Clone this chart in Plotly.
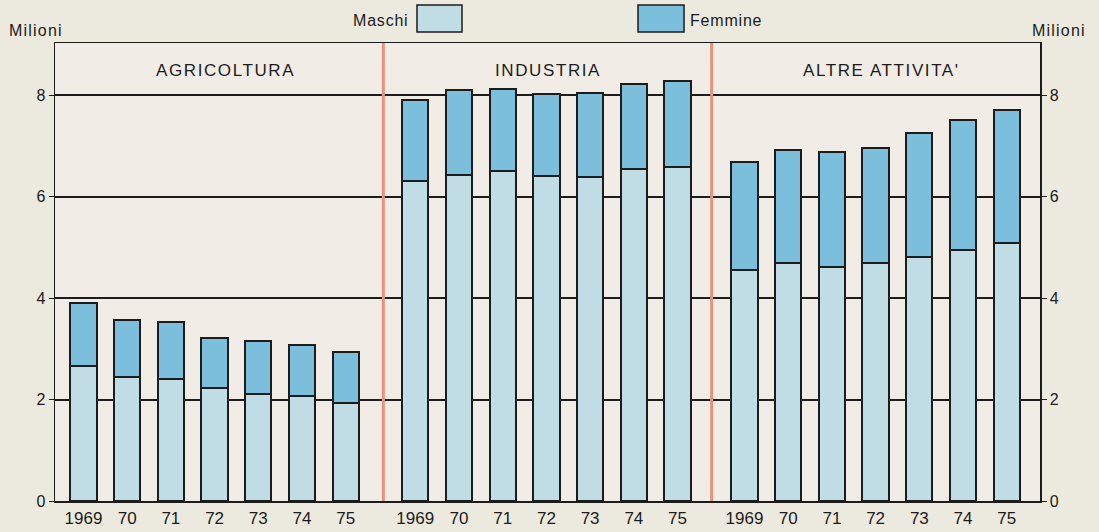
import plotly.graph_objects as go

years = ["1969", "70", "71", "72", "73", "74", "75"]
sectors = ["AGRICOLTURA", "INDUSTRIA", "ALTRE ATTIVITA'"]

# milioni di occupati: maschi e totale (maschi + femmine)
agri_maschi = [2.66, 2.45, 2.40, 2.22, 2.11, 2.08, 1.94]
agri_totale = [3.91, 3.57, 3.53, 3.22, 3.15, 3.07, 2.94]
ind_maschi = [6.31, 6.42, 6.50, 6.40, 6.39, 6.54, 6.59]
ind_totale = [7.91, 8.10, 8.13, 8.02, 8.05, 8.23, 8.28]
altre_maschi = [4.55, 4.70, 4.62, 4.70, 4.81, 4.95, 5.08]
altre_totale = [6.69, 6.92, 6.88, 6.96, 7.26, 7.51, 7.70]

y_ticks = [0, 2, 4, 6, 8]

maschi = [agri_maschi, ind_maschi, altre_maschi]
totale = [agri_totale, ind_totale, altre_totale]

C_M = "#c0dce4"
C_F = "#7bbfdc"
INK = "#1c1c1c"
FONT = "Liberation Sans"


def spaced(t, px=1.5):
    return f'<span style="letter-spacing:{px}px">{t}</span>'


fig = go.Figure()
xranges = [[-0.65, 6.86], [-0.73, 6.78], [-0.75, 6.76]]
domains = [[0, 1/3], [1/3, 2/3], [2/3, 1]]

for i in range(3):
    xa = "x" if i == 0 else f"x{i+1}"
    ya = "y" if i == 0 else f"y{i+1}"
    femmine = [round(t - m, 2) for t, m in zip(totale[i], maschi[i])]
    fig.add_trace(go.Bar(x=years, y=maschi[i], xaxis=xa, yaxis=ya, name="Maschi",
                         marker=dict(color=C_M, line=dict(color=INK, width=2)),
                         width=0.6, showlegend=False))
    fig.add_trace(go.Bar(x=years, y=femmine, xaxis=xa, yaxis=ya, name="Femmine",
                         marker=dict(color=C_F, line=dict(color=INK, width=2)),
                         width=0.6, showlegend=False))
    xkey = "xaxis" if i == 0 else f"xaxis{i+1}"
    ykey = "yaxis" if i == 0 else f"yaxis{i+1}"
    fig.layout[xkey] = dict(domain=domains[i], anchor=ya, type="category",
                            range=xranges[i], showgrid=False, showline=True,
                            mirror=True, linecolor=INK, linewidth=1.5,
                            ticks="", ticklabelstandoff=1, automargin=False,
                            tickfont=dict(family=FONT, size=17, color=INK),
                            fixedrange=True)
    yd = dict(anchor=xa, range=[0, 9.03], tickvals=y_ticks, automargin=False,
              showgrid=True, gridcolor=INK, gridwidth=2, zeroline=False,
              tickfont=dict(family=FONT, size=16, color=INK), fixedrange=True)
    if i == 0:
        yd.update(showline=True, linecolor=INK, linewidth=1.5, ticks="outside",
                  ticklen=5, tickcolor=INK, showticklabels=True, side="left")
    elif i == 2:
        yd.update(showline=True, linecolor=INK, linewidth=1.5, ticks="outside",
                  ticklen=5, tickcolor=INK, showticklabels=True, side="right")
    else:
        yd.update(showline=False, showticklabels=False, ticks="")
    fig.layout[ykey] = yd

    fig.add_annotation(text=spaced(sectors[i], 1.6), xref=f"{xa} domain", yref=ya,
                       x=0.5 if i == 1 else 0.518, y=8.48, showarrow=False,
                       font=dict(family=FONT, size=17, color=INK),
                       xanchor="center", yanchor="middle")

# red separators between panels
for xs in [1/3, 2/3]:
    fig.add_shape(type="line", xref="paper", yref="paper", x0=xs, x1=xs, y0=0, y1=1,
                  line=dict(color="#e8917c", width=3))

# legend boxes
fig.add_shape(type="rect", xref="paper", yref="paper", x0=0.3675, x1=0.4132,
              y0=1.024, y1=1.083, fillcolor=C_M, line=dict(color=INK, width=1.5))
fig.add_shape(type="rect", xref="paper", yref="paper", x0=0.5919, x1=0.6386,
              y0=1.024, y1=1.083, fillcolor=C_F, line=dict(color=INK, width=1.5))
fig.add_annotation(text=spaced("Maschi", 0.8), xref="paper", yref="paper", x=0.3604, y=1.05,
                   xanchor="right", yanchor="middle", showarrow=False,
                   font=dict(family=FONT, size=16, color=INK))
fig.add_annotation(text=spaced("Femmine", 0.8), xref="paper", yref="paper", x=0.6426, y=1.05,
                   xanchor="left", yanchor="middle", showarrow=False,
                   font=dict(family=FONT, size=16, color=INK))
fig.add_annotation(text=spaced("Milioni", 1.2), xref="paper", yref="paper", x=-0.0487, y=1.028,
                   xanchor="left", yanchor="middle", showarrow=False,
                   font=dict(family=FONT, size=16, color=INK))
fig.add_annotation(text=spaced("Milioni", 1.2), xref="paper", yref="paper", x=1.0487, y=1.028,
                   xanchor="right", yanchor="middle", showarrow=False,
                   font=dict(family=FONT, size=16, color=INK))

fig.update_layout(width=1099, height=532, barmode="stack",
                  margin=dict(l=55, r=59, t=43, b=31, autoexpand=False),
                  paper_bgcolor="#ece9df", plot_bgcolor="#f1ede6",
                  showlegend=False)

fig.write_html("out.html",
               config={"displayModeBar": False, "staticPlot": True},
               post_script="document.body.style.margin='0';"
                           "document.body.style.background='#ece9df';"
                           "document.documentElement.style.overflow='hidden';")
